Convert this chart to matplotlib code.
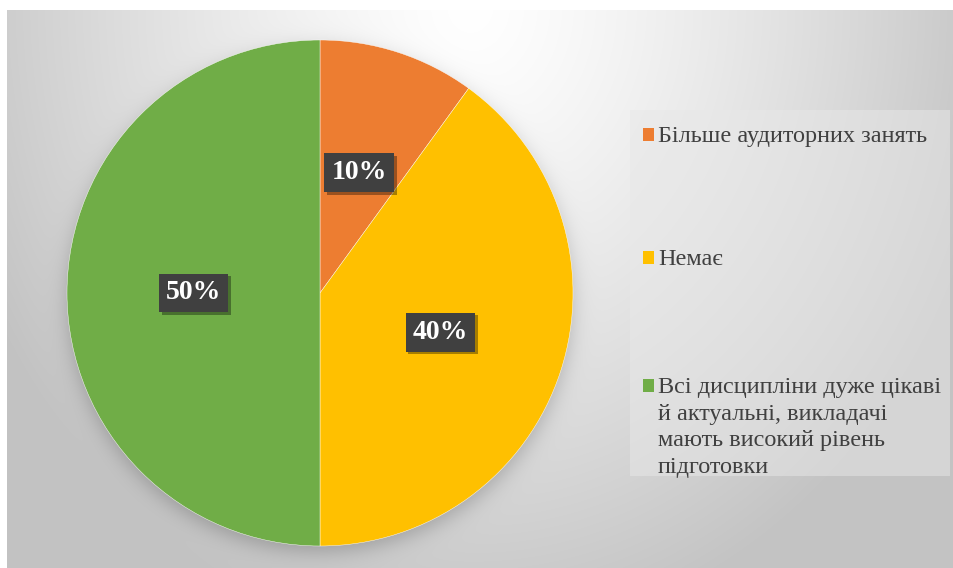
import matplotlib
matplotlib.use("Agg")
import matplotlib.pyplot as plt
import matplotlib.patheffects as pe
from matplotlib.patches import Rectangle
import numpy as np

# ── Дані ─────────────────────────────────────────────────────────────────────
categories = [
    "Більше аудиторних занять",
    "Немає",
    "Всі дисципліни дуже цікаві\nй актуальні, викладачі\nмають високий рівень\nпідготовки",
]
values = [10, 40, 50]
colors = ["#ED7D31", "#FFC000", "#70AD47"]

W, H = 954, 568
FONT = "Liberation Serif"

fig = plt.figure(figsize=(W / 100, H / 100), dpi=100)
fig.patch.set_facecolor("white")

# ── Тло з радіальним градієнтом і тінню під діаграмою ────────────────────────
x0, y0 = 7, 10
yy, xx = np.mgrid[y0:H, x0:W].astype(float)
d = np.sqrt(((xx - 470) / 540) ** 2 + ((yy - 5) / 640) ** 2)
bg = 255 - 60 * np.clip(d, 0, 1) ** 1.3
# м'яка тінь під кругом
cx, cy, r = 320, 293, 253
dist = np.sqrt((xx - cx) ** 2 + (yy - (cy + 6)) ** 2) - r
shadow = 1 / (1 + np.exp(dist / 6.0))
bg = bg - 45 * shadow
bg = np.clip(bg, 0, 255) / 255
ax_bg = fig.add_axes([x0 / W, 0, 1 - x0 / W, (H - y0) / H])
ax_bg.imshow(np.dstack([bg, bg, bg]), aspect="auto", interpolation="bilinear")
ax_bg.set_axis_off()

# ── Кругова діаграма ─────────────────────────────────────────────────────────
ax = fig.add_axes([(cx - r) / W, (H - cy - r) / H, 2 * r / W, 2 * r / H])
wedges, _, autotexts = ax.pie(
    values, colors=colors, startangle=90, counterclock=False,
    autopct="%d%%", pctdistance=0.5,
    wedgeprops=dict(edgecolor="white", linewidth=0.3),
)
ax.set_xlim(-1, 1)
ax.set_ylim(-1, 1)
ax.set_aspect("equal")
ax.set_axis_off()

for t in autotexts:
    t.set_fontfamily(FONT)
    t.set_fontweight("bold")
    t.set_fontsize(20)
    t.set_color("white")
    t.set_bbox(dict(boxstyle="square,pad=0.25", facecolor="#404040",
                    edgecolor="none"))
    t.get_bbox_patch().set_path_effects(
        [pe.withSimplePatchShadow(offset=(2, -2), shadow_rgbFace="black",
                                  alpha=0.35)])

# ── Легенда ──────────────────────────────────────────────────────────────────
lx0, ly0, lx1, ly1 = 630, 110, 950, 476
fig.patches.append(Rectangle((lx0 / W, 1 - ly1 / H), (lx1 - lx0) / W,
                             (ly1 - ly0) / H, transform=fig.transFigure,
                             facecolor="#e8e8e8", alpha=0.5,
                             edgecolor="none", zorder=1))
baselines = [142, 265, 393]
LINE_PITCH = 26.7
for lab, col, yb in zip(categories, colors, baselines):
    fig.patches.append(Rectangle((643 / W, 1 - (yb - 1) / H), 11 / W, 13 / H,
                                 transform=fig.transFigure, facecolor=col,
                                 edgecolor="none", zorder=2))
    for k, line in enumerate(lab.split("\n")):
        fig.text(658 / W, 1 - (yb + k * LINE_PITCH) / H, line,
                 fontfamily=FONT, fontsize=17.5, color="#404040",
                 va="baseline", ha="left", zorder=3)

fig.savefig("out.png", dpi=100)
